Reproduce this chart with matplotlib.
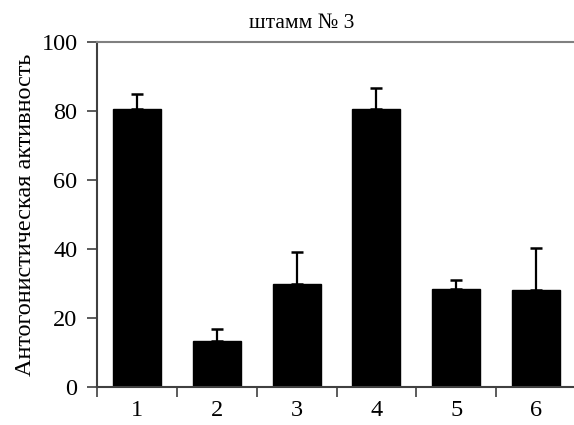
import matplotlib.pyplot as plt
import matplotlib

matplotlib.rcParams['font.family'] = ['Liberation Serif', 'DejaVu Serif']

# данные
labels = ['1', '2', '3', '4', '5', '6']
values = [80.5, 13.4, 30.0, 80.5, 28.3, 28.1]
errors = [4.4, 3.3, 9.1, 6.2, 2.7, 12.1]

fig = plt.figure(figsize=(5.74, 4.25), dpi=100)
ax = fig.add_axes([0.169, 0.0894, 0.8345, 0.8118])

x = range(1, len(labels) + 1)
ax.bar(x, values, width=0.6, color='black', edgecolor='black')
ax.errorbar(x, values, yerr=[[0] * len(errors), errors], fmt='none',
            ecolor='black', elinewidth=1.6, capsize=4.2, capthick=1.8)

ax.set_xlim(0.5, 6.5)
ax.set_ylim(0, 100)
ax.set_yticks([0, 20, 40, 60, 80, 100])
ax.set_xticks(x)
ax.set_xticklabels(labels, fontsize=17.5)
ax.set_xticks([i + 0.5 for i in range(0, 6)], minor=True)
ax.tick_params(axis='x', which='major', length=0, pad=9)
ax.tick_params(axis='x', which='minor', length=7, width=1.2, color='#404040', direction='out')
ax.tick_params(axis='y', labelsize=17.5, length=7, width=1.2, color='#404040', direction='out', pad=7)

ax.spines['right'].set_visible(False)
ax.spines['left'].set_color('#404040')
ax.spines['left'].set_linewidth(1.5)
ax.spines['bottom'].set_color('#404040')
ax.spines['bottom'].set_linewidth(1.5)
ax.spines['top'].set_color('#808080')
ax.spines['top'].set_linewidth(1.5)

ax.set_ylabel('Антогонистическая активность', fontsize=17.5, labelpad=4)
fig.text(302 / 574, 1 - 23 / 425, 'штамм № 3', fontsize=15.5, ha='center', va='center')

fig.savefig('out.png', dpi=100)
